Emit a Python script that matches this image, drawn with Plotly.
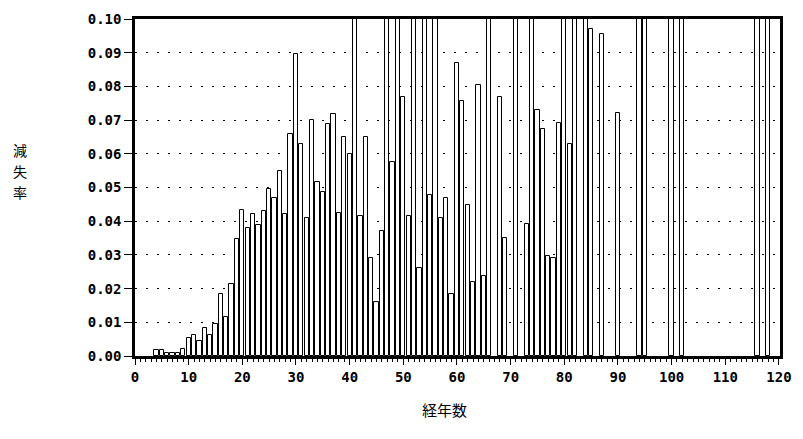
import plotly.graph_objects as go

# 経年数 (years) and 減失率 (loss rate); values above 0.10 are clipped in the original
years = [4, 5, 6, 7, 8, 9, 10, 11, 12, 13, 14, 15, 16, 17, 18, 19,
         20, 21, 22, 23, 24, 25, 26, 27, 28, 29,
         30, 31, 32, 33, 34, 35, 36, 37, 38, 39,
         40, 41, 42, 43, 44, 45, 46, 47, 48, 49,
         50, 51, 52, 53, 54, 55, 56, 57, 58, 59,
         60, 61, 62, 63, 64, 65, 66, 68, 69,
         71, 73, 74, 75, 76, 77, 78, 79,
         80, 81, 82, 84, 85, 87,
         90, 94, 95, 100, 102, 116, 118]
rate = [0.0017, 0.0017, 0.0008, 0.0008, 0.0008, 0.0020, 0.0054, 0.0063, 0.0046, 0.0083, 0.0063, 0.0095, 0.0185, 0.0117, 0.0215, 0.0346,
        0.0432, 0.0380, 0.0420, 0.0390, 0.0430, 0.0496, 0.0470, 0.0550, 0.0420, 0.0660,
        0.0895, 0.0630, 0.0410, 0.0700, 0.0517, 0.0488, 0.0688, 0.0717, 0.0425, 0.0650,
        0.0600, 0.1200, 0.0415, 0.0650, 0.0290, 0.0160, 0.0370, 0.1200, 0.0576, 0.1200,
        0.0770, 0.0415, 0.1200, 0.0260, 0.1200, 0.0478, 0.1200, 0.0410, 0.0470, 0.0185,
        0.0868, 0.0758, 0.0447, 0.0220, 0.0804, 0.0236, 0.1200, 0.0770, 0.0350,
        0.1200, 0.0393, 0.1200, 0.0730, 0.0673, 0.0298, 0.0290, 0.0690,
        0.1200, 0.0630, 0.1200, 0.1200, 0.0970, 0.0955,
        0.0720, 0.1200, 0.1200, 0.1200, 0.1200, 0.1200, 0.1200]

y_ticks = [0.00, 0.01, 0.02, 0.03, 0.04, 0.05, 0.06, 0.07, 0.08, 0.09, 0.10]
x_ticks = [0, 10, 20, 30, 40, 50, 60, 70, 80, 90, 100, 110, 120]
x_title = "経年数"
y_title_chars = ["減", "失", "率"]

tick_font = dict(family="DejaVu Sans Mono", size=14, color="black", weight="bold")
title_font = dict(family="Noto Sans CJK JP", size=15, color="black")
ytitle_font = dict(family="Noto Sans CJK JP", size=14, color="black")

fig = go.Figure()
fig.add_trace(go.Bar(
    x=years, y=rate, width=0.8,
    marker=dict(color="white", line=dict(color="black", width=1)),
    showlegend=False,
))

annotations = [
    dict(text=x_title, xref="paper", yref="paper", x=0.48, y=-0.158,
         xanchor="center", yanchor="middle", showarrow=False, font=title_font),
]
# vertical stacked y-axis title, one character per line (pixel rows 148, 169, 190)
for i, ch in enumerate(y_title_chars):
    annotations.append(dict(
        text=ch, xref="paper", yref="paper", x=-0.178,
        y=(356 - (148 + 21 * i)) / 341.0, borderpad=0,
        xanchor="center", yanchor="middle", showarrow=False, font=ytitle_font))

fig.update_layout(
    width=803, height=439,
    margin=dict(l=135, r=11, t=15, b=83),
    paper_bgcolor="white", plot_bgcolor="white",
    bargap=0,
    annotations=annotations,
)

fig.update_xaxes(
    range=[0, 120.2], tickvals=x_ticks, ticks="outside", ticklen=6, tickwidth=1,
    tickcolor="black", tickfont=tick_font, showgrid=False, zeroline=False,
    showline=True, linecolor="black", linewidth=2.5, mirror=True,
    minor=dict(dtick=1, ticks="outside", ticklen=3, tickcolor="black", showgrid=False),
)
fig.update_yaxes(
    range=[0, 0.10], tickvals=y_ticks, tickformat=".2f", ticks="outside", ticklen=8,
    tickwidth=1, tickcolor="black", tickfont=tick_font,
    showgrid=True, gridcolor="black", gridwidth=1, griddash="2px,9px",
    zeroline=False, showline=True, linecolor="black", linewidth=2.5, mirror=True,
)

fig.write_html("out.html")
